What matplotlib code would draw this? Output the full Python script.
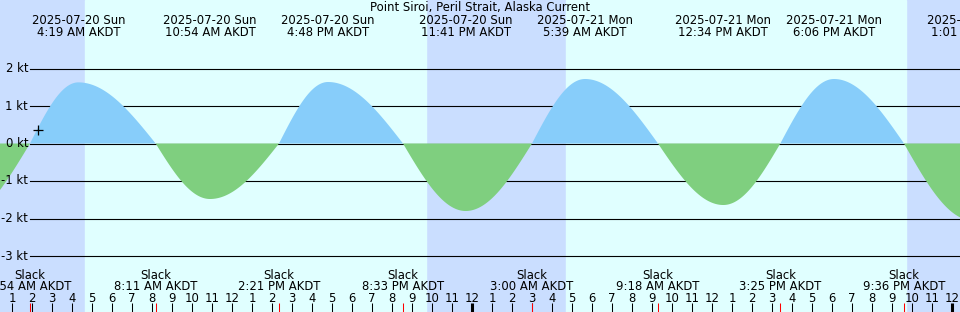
#!/usr/bin/env python3
from datetime import datetime

import matplotlib

matplotlib.use("Agg")
import matplotlib.pyplot as plt
import numpy as np

# ---- data ----
station = "Point Siroi, Peril Strait, Alaska Current"
tz = "AKDT"
origin = datetime(2025, 7, 20, 0, 0)

# current events: date, time, kind, speed (kt)
ev_dates = [
    "2025-07-19", "2025-07-20", "2025-07-20", "2025-07-20", "2025-07-20",
    "2025-07-20", "2025-07-20", "2025-07-20", "2025-07-20", "2025-07-21",
    "2025-07-21", "2025-07-21", "2025-07-21", "2025-07-21", "2025-07-21",
    "2025-07-21", "2025-07-22",
]
ev_times = [
    "10:04 PM", "1:54 AM", "4:19 AM", "8:11 AM", "10:54 AM",
    "2:21 PM", "4:48 PM", "8:33 PM", "11:41 PM", "3:00 AM",
    "5:39 AM", "9:18 AM", "12:34 PM", "3:25 PM", "6:06 PM",
    "9:36 PM", "1:01 AM",
]
ev_kind = [
    "max", "slack", "max", "slack", "max",
    "slack", "max", "slack", "max", "slack",
    "max", "slack", "max", "slack", "max",
    "slack", "max",
]
ev_speed = [
    -2.15, 0.0, 1.63, 0.0, -1.48,
    0.0, 1.64, 0.0, -1.80, 0.0,
    1.72, 0.0, -1.64, 0.0, 1.72,
    0.0, -2.05,
]

# sunrise / sunset (day shading)
sunrise = ["2025-07-20 4:39 AM", "2025-07-21 4:42 AM"]
sunset = ["2025-07-20 9:42 PM", "2025-07-21 9:42 PM"]

grid_kt = [2, 1, 0, -1, -2, -3]
now_mark = ("2025-07-20 2:18 AM", 0.35)

# ---- colours ----
night_col = "#cadeff"
day_col = "#e0ffff"
flood_col = "#87cdfa"
ebb_col = "#7fcf7f"

W, H = 960, 312
PX_PER_H = 20.0
X0_PX = -8.0  # pixel of 2025-07-20 00:00
Y0_PX = 143.5  # pixel of 0 kt
PX_PER_KT = 37.5


def hours(stamp):
    dt = datetime.strptime(stamp, "%Y-%m-%d %I:%M %p")
    return (dt - origin).total_seconds() / 3600.0


def yfrac(px):
    return 1.0 - px / H


ev_h = np.array([hours(d + " " + t) for d, t in zip(ev_dates, ev_times)])
ev_v = np.array(ev_speed)

fig = plt.figure(figsize=(W / 100, H / 100), dpi=100)
ax = fig.add_axes([0, 0, 1, 1])
ax.set_xlim((0 - X0_PX) / PX_PER_H, (W - X0_PX) / PX_PER_H)
ax.set_ylim((Y0_PX - H) / PX_PER_KT, Y0_PX / PX_PER_KT)
ax.axis("off")
xlo, xhi = ax.get_xlim()

plt.rcParams["font.family"] = ["DejaVu Sans"]
FS = 8.4

# background: night then day spans
ax.axvspan(xlo, xhi, color=night_col, zorder=0)
for r, s in zip(sunrise, sunset):
    ax.axvspan(hours(r), hours(s), color=day_col, zorder=0.5)

# grid lines
for k in grid_kt:
    ax.plot([(30 - X0_PX) / PX_PER_H, xhi], [k, k], color="black", lw=0.8, zorder=1)
    ax.text(28 / W, k, f"{k} kt", transform=ax.get_yaxis_transform(),
            ha="right", va="center", fontsize=FS, zorder=3)

# curve: quarter-cosine between each slack and max
t_parts, v_parts = [], []
for i in range(len(ev_h) - 1):
    ta, tb = ev_h[i], ev_h[i + 1]
    tt = np.linspace(ta, tb, 80, endpoint=False)
    f = (tt - ta) / (tb - ta)
    if ev_kind[i] == "slack":
        vv = ev_v[i + 1] * np.sin(np.pi / 2 * f)
    else:
        vv = ev_v[i] * np.cos(np.pi / 2 * f)
    t_parts.append(tt)
    v_parts.append(vv)
t_curve = np.concatenate(t_parts)
v_curve = np.concatenate(v_parts)

ax.fill_between(t_curve, 0, v_curve, where=v_curve >= 0, interpolate=True,
                color=flood_col, lw=0, zorder=2)
ax.fill_between(t_curve, 0, v_curve, where=v_curve <= 0, interpolate=True,
                color=ebb_col, lw=0, zorder=2)

# "now" marker
ax.plot(hours(now_mark[0]), now_mark[1], marker="+", color="black",
        markersize=7.5, mew=0.9, zorder=4)

# title
ax.text(0.5, yfrac(11.5), station, transform=ax.transAxes, ha="center",
        va="baseline", fontsize=FS)

xt = ax.get_xaxis_transform()
for d, t, k, h in zip(ev_dates, ev_times, ev_kind, ev_h):
    if k == "max":
        day = datetime.strptime(d, "%Y-%m-%d").strftime("%a")
        ax.text(h, yfrac(24), f"{d} {day}", transform=xt, ha="center",
                va="baseline", fontsize=FS)
        ax.text(h, yfrac(36), f"{t} {tz}", transform=xt, ha="center",
                va="baseline", fontsize=FS)
    else:
        ax.text(h, yfrac(279), "Slack", transform=xt, ha="center",
                va="baseline", fontsize=FS)
        ax.text(h, yfrac(290), f"{t} {tz}", transform=xt, ha="center",
                va="baseline", fontsize=FS)

# hour ticks along bottom
for hh in range(int(np.ceil(xlo)), int(xhi) + 1):
    lab = hh % 12 or 12
    ax.text(hh, yfrac(301.5), str(lab), transform=xt, ha="center",
            va="baseline", fontsize=FS)
    lw = 2.2 if hh % 24 == 0 else 0.75
    ax.plot([hh, hh], [yfrac(312), yfrac(303)], transform=xt, color="black",
            lw=lw, solid_capstyle="butt", zorder=3)

for k, h in zip(ev_kind, ev_h):
    if k == "slack":
        ax.plot([h, h], [yfrac(312), yfrac(303)], transform=xt, color="red",
                lw=0.75, solid_capstyle="butt", zorder=3)

fig.savefig("out.png", dpi=100)
